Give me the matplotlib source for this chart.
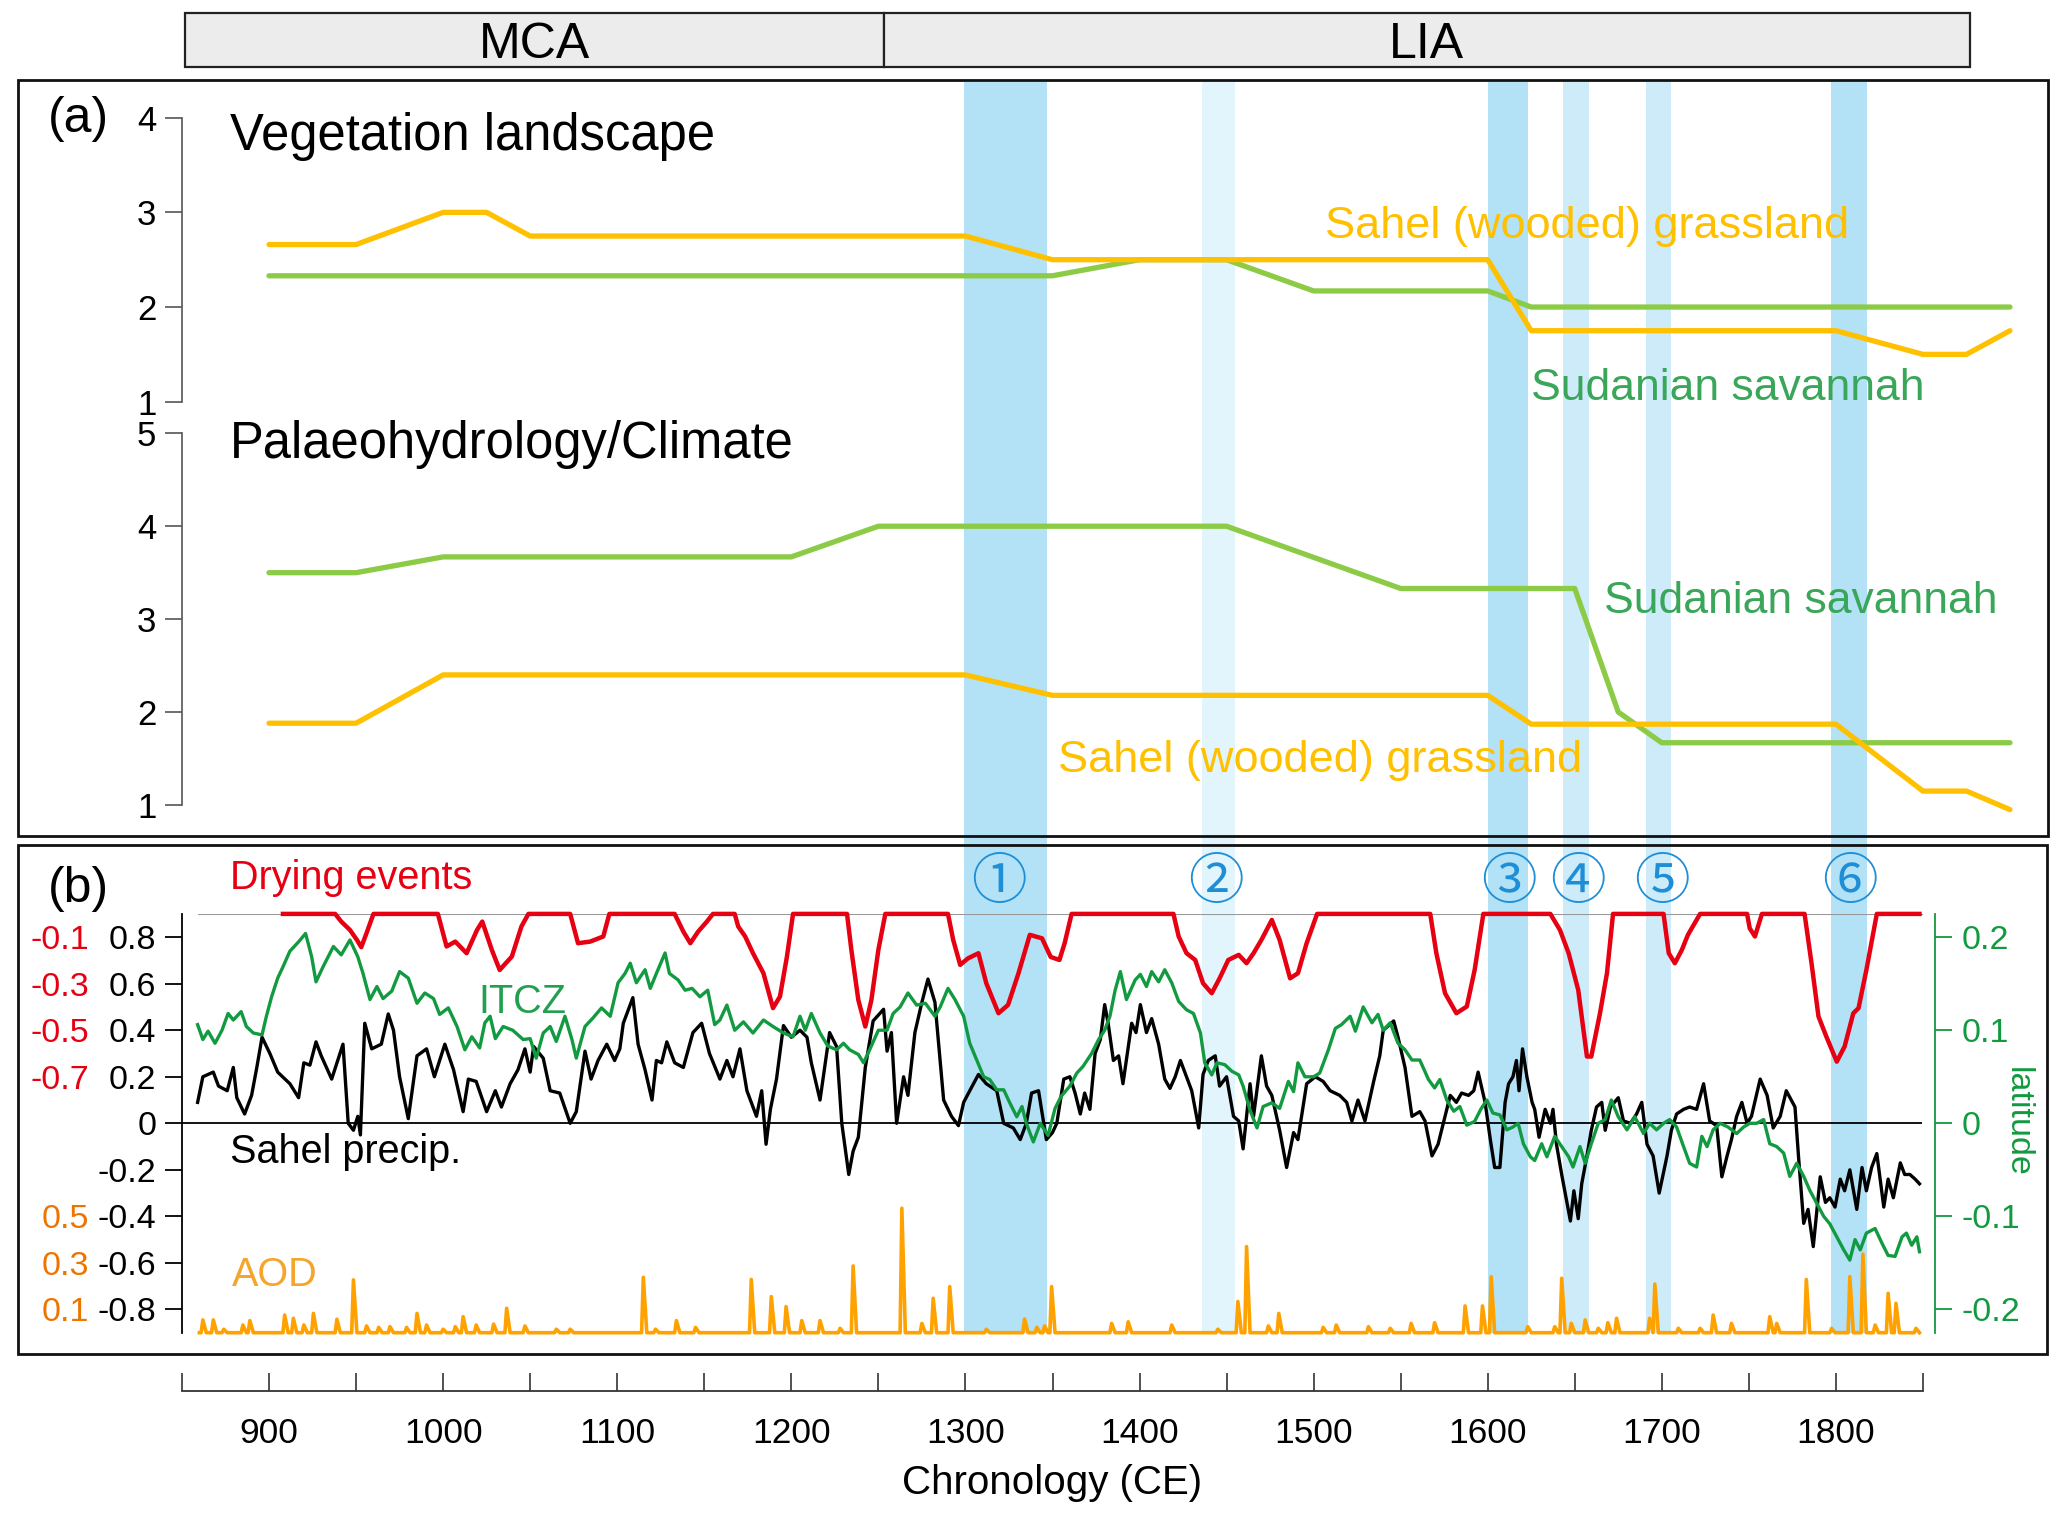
import matplotlib
matplotlib.use("Agg")
import matplotlib.pyplot as plt
from matplotlib.patches import Rectangle

plt.rcParams['font.family'] = ['Liberation Sans', 'DejaVu Sans']

# ---------------- data ----------------
PERIODS = ['MCA', 'LIA']
PERIOD_START = [852, 1253]
PERIOD_END = [1253, 1877]

# drying-event bands (CE)
BAND_START = [1299, 1436, 1600, 1643, 1691, 1797]
BAND_END = [1347, 1455, 1623, 1658, 1705, 1818]
BAND_SHADE = ['dark', 'light', 'dark', 'mid', 'mid', 'dark']
EVENT_LABELS = ['①', '②', '③', '④', '⑤', '⑥']
EVENT_YEAR = [1319, 1444, 1612, 1652, 1700, 1808]

# (a) vegetation landscape
VEG_SAHEL_YEAR = [900, 950, 1000, 1025, 1050, 1300, 1350, 1600, 1625, 1800, 1850, 1875, 1900]
VEG_SAHEL = [2.66, 2.66, 3.0, 3.0, 2.75, 2.75, 2.5, 2.5, 1.75, 1.75, 1.5, 1.5, 1.75]
VEG_SUDAN_YEAR = [900, 1350, 1400, 1450, 1500, 1600, 1625, 1900]
VEG_SUDAN = [2.33, 2.33, 2.5, 2.5, 2.17, 2.17, 2.0, 2.0]

# (a) palaeohydrology / climate
PAL_SUDAN_YEAR = [900, 950, 1000, 1200, 1250, 1450, 1550, 1650, 1675, 1700, 1900]
PAL_SUDAN = [3.5, 3.5, 3.67, 3.67, 4.0, 4.0, 3.33, 3.33, 2.0, 1.67, 1.67]
PAL_SAHEL_YEAR = [900, 950, 1000, 1300, 1350, 1600, 1625, 1800, 1850, 1875, 1900]
PAL_SAHEL = [1.88, 1.88, 2.4, 2.4, 2.18, 2.18, 1.87, 1.87, 1.15, 1.15, 0.95]

# (b) Sahel precipitation
PRECIP_YEAR = [859, 862, 868, 871, 876, 879.5, 881.5, 886, 890, 893, 896, 900.5, 905, 912, 917, 920,
               923.5, 927, 930, 936, 942.5, 945.5, 948.5, 951, 952.5, 955, 959, 964.5, 968.5, 971.5,
               975, 980, 985, 990.5, 995, 1001, 1006, 1011.5, 1014.5, 1019, 1025, 1030, 1033.5,
               1038.5, 1043, 1047, 1050, 1052, 1057.5, 1061.5, 1067, 1073, 1076.5, 1081.5, 1085,
               1089, 1094, 1098.5, 1101.5, 1103.5, 1105.5, 1109, 1112, 1116, 1120, 1122.5, 1125.5,
               1128.5, 1133, 1138, 1143.5, 1148.5, 1153, 1159, 1163, 1166.5, 1170.5, 1174.5, 1180,
               1183, 1185.5, 1188, 1191.5, 1195.5, 1200, 1205, 1209, 1211.5, 1216.5, 1222, 1226,
               1229, 1233, 1235.5, 1238.5, 1242.5, 1247, 1253, 1255, 1257.5, 1260.5, 1264.5, 1267,
               1271, 1275, 1278.5, 1282.5, 1287.5, 1292, 1296, 1299, 1302.5, 1307.5, 1312, 1318,
               1322, 1327.5, 1331.5, 1335, 1338, 1342, 1346.5, 1350, 1352.5, 1356.5, 1360, 1363,
               1366, 1368.5, 1371.5, 1374.5, 1377.5, 1380, 1382, 1385, 1388, 1390.5, 1395.5, 1398,
               1400.5, 1404, 1407, 1411, 1414.5, 1417.5, 1420.5, 1423.5, 1427, 1430, 1434, 1436.5,
               1439.5, 1443.5, 1446, 1450, 1454, 1457, 1459.5, 1463.5, 1465.5, 1470, 1473, 1476,
               1480.5, 1484.5, 1488.5, 1491, 1496, 1501, 1505.5, 1509.5, 1515, 1519, 1522, 1525.5,
               1529.5, 1534.5, 1538, 1540, 1546, 1548.5, 1552.5, 1556.5, 1561, 1564, 1568, 1571.5,
               1575.5, 1578.5, 1582, 1585, 1589, 1592, 1594.5, 1598.5, 1601.5, 1604, 1607, 1610,
               1612, 1614.5, 1616.5, 1618, 1620, 1622.5, 1625.5, 1627, 1629.5, 1633, 1636, 1637.5,
               1639.5, 1642.5, 1647.5, 1649.5, 1652, 1654, 1657, 1659.5, 1662.5, 1665.5, 1667.5,
               1670.5, 1675, 1678, 1682, 1685.5, 1688.5, 1691.5, 1695, 1698.5, 1703, 1705.5, 1708.5,
               1712.5, 1716, 1720, 1724, 1727.5, 1731.5, 1734.5, 1737.5, 1740, 1743, 1746, 1749,
               1751.5, 1756.5, 1760.5, 1764, 1768, 1771.5, 1776.5, 1778.5, 1781.5, 1784, 1787, 1791,
               1794, 1796.5, 1799.5, 1802.5, 1805, 1808, 1812, 1815, 1817.5, 1820.5, 1823.5, 1827.5,
               1830, 1833, 1837, 1839.5, 1842.5, 1845.5, 1848]
PRECIP = [0.09, 0.20, 0.22, 0.16, 0.14, 0.24, 0.11, 0.04, 0.12, 0.24, 0.37, 0.30, 0.22, 0.17, 0.11, 0.26,
          0.25, 0.35, 0.29, 0.19, 0.34, 0.0, -0.03, 0.03, -0.05, 0.43, 0.32, 0.34, 0.47, 0.40,
          0.20, 0.02, 0.29, 0.32, 0.20, 0.34, 0.23, 0.05, 0.19, 0.18, 0.05, 0.14, 0.07,
          0.17, 0.23, 0.32, 0.22, 0.33, 0.28, 0.14, 0.13, 0.0, 0.05, 0.31, 0.19,
          0.27, 0.34, 0.27, 0.32, 0.43, 0.47, 0.54, 0.34, 0.23, 0.10, 0.27, 0.26,
          0.35, 0.26, 0.24, 0.39, 0.43, 0.30, 0.19, 0.27, 0.20, 0.32, 0.14, 0.03,
          0.14, -0.09, 0.06, 0.19, 0.42, 0.37, 0.40, 0.37, 0.26, 0.10, 0.39, 0.33,
          0.0, -0.22, -0.12, -0.06, 0.24, 0.44, 0.49, 0.31, 0.39, 0.0, 0.20, 0.12,
          0.39, 0.52, 0.62, 0.52, 0.10, 0.03, -0.01, 0.09, 0.14, 0.21, 0.17, 0.14,
          0.0, -0.02, -0.07, 0.0, 0.13, 0.14, -0.07, -0.04, 0.0, 0.19, 0.20, 0.13,
          0.04, 0.13, 0.06, 0.30, 0.36, 0.51, 0.43, 0.27, 0.29, 0.17, 0.43, 0.39,
          0.51, 0.39, 0.45, 0.34, 0.19, 0.15, 0.20, 0.27, 0.20, 0.14, -0.02, 0.21,
          0.27, 0.29, 0.16, 0.20, 0.03, 0.01, -0.11, 0.17, 0.03, 0.29, 0.16, 0.12,
          -0.03, -0.19, -0.04, -0.07, 0.17, 0.20, 0.18, 0.14, 0.12, 0.09, 0.01, 0.10,
          0.01, 0.18, 0.29, 0.40, 0.44, 0.37, 0.24, 0.03, 0.05, 0.01, -0.14, -0.09,
          0.03, 0.12, 0.09, 0.13, 0.12, 0.14, 0.22, 0.09, -0.07, -0.19, -0.19, 0.09,
          0.17, 0.20, 0.27, 0.14, 0.32, 0.20, 0.09, 0.06, -0.06, 0.06, 0.0, 0.06,
          -0.09, -0.22, -0.42, -0.29, -0.41, -0.26, -0.14, -0.03, 0.07, 0.09, -0.03,
          0.07, 0.11, 0.01, 0.0, 0.04, 0.09, -0.09, -0.14, -0.30, -0.14, -0.03, 0.04,
          0.06, 0.07, 0.06, 0.17, 0.01, -0.01, -0.23, -0.14, -0.07, 0.03, 0.09, 0.0,
          0.03, 0.19, 0.12, -0.02, 0.03, 0.14, 0.07, -0.14, -0.43, -0.37, -0.53, -0.23,
          -0.34, -0.32, -0.36, -0.24, -0.29, -0.20, -0.37, -0.19, -0.29, -0.19, -0.13, -0.36,
          -0.24, -0.32, -0.17, -0.22, -0.22, -0.24, -0.26]

# (b) ITCZ latitude
ITCZ_YEAR = [859, 862, 865, 869, 873, 876.5, 879.5, 884, 887, 891, 896, 898.5, 901.5, 905, 908, 912,
             917, 921, 924.5, 927, 931, 937, 941.5, 946.5, 951, 954, 958, 962, 965.5, 970.5, 975,
             980, 985, 989.5, 994.5, 998, 1003, 1008, 1012.5, 1016.5, 1021, 1024, 1027, 1030,
             1034.5, 1040, 1046, 1050, 1053.5, 1057.5, 1061.5, 1065, 1070, 1074, 1076.5, 1081.5,
             1086, 1091, 1096, 1100.5, 1104.5, 1107.5, 1111, 1116, 1119, 1122.5, 1127.5, 1130,
             1135, 1139, 1143, 1147.5, 1152, 1156, 1159, 1163, 1167.5, 1172.5, 1178, 1184, 1189.5,
             1195.5, 1201, 1205, 1208, 1211.5, 1216.5, 1221, 1226, 1230, 1233.5, 1238.5, 1241.5,
             1245, 1250, 1255, 1258.5, 1262.5, 1267, 1272, 1277, 1282.5, 1285.5, 1290, 1294, 1299,
             1302.5, 1306.5, 1310.5, 1314, 1318, 1322, 1325.5, 1329.5, 1332.5, 1335, 1339, 1343,
             1347.5, 1351.5, 1355, 1360, 1364, 1367.5, 1372.5, 1376.5, 1380, 1383, 1386, 1389,
             1392.5, 1397.5, 1400.5, 1404, 1407, 1411, 1414.5, 1418.5, 1422.5, 1427, 1431, 1435,
             1437.5, 1441.5, 1444.5, 1449, 1453, 1457, 1459.5, 1463.5, 1467.5, 1471, 1476, 1480.5,
             1485.5, 1488.5, 1491, 1495, 1500, 1503.5, 1508.5, 1512.5, 1516, 1521, 1524, 1528.5,
             1533.5, 1537, 1540, 1544, 1548.5, 1552.5, 1556.5, 1561, 1566, 1569.5, 1572.5, 1576.5,
             1580.5, 1584, 1588, 1592.5, 1596, 1599.5, 1603, 1607, 1611, 1614.5, 1617.5, 1620.5,
             1624.5, 1627, 1631, 1634, 1638.5, 1642.5, 1646.5, 1649, 1653, 1656, 1659.5, 1663.5,
             1667.5, 1671, 1675, 1680, 1684.5, 1689.5, 1693, 1697, 1701, 1704.5, 1708.5, 1712.5,
             1716, 1720, 1723, 1726, 1729.5, 1733.5, 1738, 1743, 1747, 1750.5, 1754.5, 1758.5, 1762,
             1766, 1770, 1773.5, 1777.5, 1781.5, 1785, 1789, 1793, 1796.5, 1800.5, 1804.5, 1808,
             1811, 1814, 1817.5, 1822.5, 1826.5, 1830, 1834, 1838, 1840.5, 1843.5, 1846.5, 1848]
ITCZ = [0.106, 0.090, 0.099, 0.086, 0.100, 0.118, 0.111, 0.120, 0.104, 0.097, 0.095, 0.115, 0.136,
        0.156, 0.168, 0.185, 0.195, 0.204, 0.179, 0.152, 0.168, 0.190, 0.181, 0.197, 0.179, 0.161,
        0.133, 0.147, 0.134, 0.142, 0.163, 0.156, 0.129, 0.140, 0.134, 0.117, 0.124, 0.104, 0.079,
        0.093, 0.081, 0.108, 0.115, 0.091, 0.104, 0.100, 0.090, 0.091, 0.070, 0.097, 0.104, 0.088,
        0.115, 0.090, 0.070, 0.104, 0.113, 0.124, 0.115, 0.151, 0.161, 0.172, 0.151, 0.165, 0.145,
        0.161, 0.183, 0.161, 0.154, 0.143, 0.145, 0.136, 0.143, 0.106, 0.111, 0.127, 0.100, 0.109,
        0.097, 0.111, 0.104, 0.097, 0.093, 0.115, 0.100, 0.118, 0.097, 0.083, 0.079, 0.086, 0.079,
        0.074, 0.065, 0.079, 0.100, 0.100, 0.118, 0.125, 0.140, 0.127, 0.129, 0.115, 0.125, 0.145,
        0.133, 0.115, 0.086, 0.068, 0.050, 0.047, 0.036, 0.036, 0.022, 0.007, 0.018, 0.0, -0.020,
        0.0, -0.013, 0.016, 0.029, 0.040, 0.054, 0.061, 0.075, 0.090, 0.100, 0.115, 0.143, 0.163,
        0.133, 0.154, 0.160, 0.147, 0.163, 0.152, 0.165, 0.151, 0.131, 0.122, 0.118, 0.097, 0.065,
        0.052, 0.065, 0.063, 0.056, 0.052, 0.040, 0.014, -0.005, 0.018, 0.022, 0.016, 0.045, 0.034,
        0.065, 0.050, 0.050, 0.054, 0.079, 0.102, 0.106, 0.115, 0.099, 0.125, 0.108, 0.117, 0.100,
        0.108, 0.086, 0.079, 0.068, 0.068, 0.047, 0.038, 0.047, 0.025, 0.013, 0.018, -0.002, 0.002,
        0.015, 0.025, 0.011, 0.009, -0.007, -0.004, 0.0, -0.022, -0.036, -0.040, -0.022, -0.036,
        -0.014, -0.025, -0.036, -0.047, -0.025, -0.043, -0.022, 0.0, 0.004, 0.025, 0.007, -0.007,
        0.007, -0.011, 0.0, -0.007, 0.0, 0.004, -0.004, -0.025, -0.043, -0.047, -0.014, -0.025,
        -0.007, 0.0, -0.004, -0.011, -0.004, 0.0, 0.0, 0.004, -0.022, -0.025, -0.032, -0.057,
        -0.043, -0.057, -0.072, -0.086, -0.100, -0.108, -0.122, -0.136, -0.147, -0.125, -0.136,
        -0.118, -0.113, -0.129, -0.142, -0.143, -0.122, -0.118, -0.131, -0.122, -0.138]

# (b) drying events
DRY_YEAR = [908, 938, 941.5, 946.5, 950.5, 953, 956, 960, 997, 1002, 1007, 1013.5, 1019.5, 1022.5,
            1028, 1032.5, 1039.5, 1045, 1049, 1073, 1077.5, 1084.5, 1092, 1095.5, 1133, 1138, 1142,
            1146.5, 1151.5, 1155, 1167.5, 1169.5, 1173.5, 1178, 1184, 1189.5, 1193.5, 1197.5, 1201,
            1232, 1234.5, 1238.5, 1242.5, 1246, 1250, 1254, 1290, 1293, 1297, 1301.5, 1307.5, 1312,
            1319, 1324.5, 1330.5, 1337, 1344, 1349, 1354, 1357, 1361, 1419.5, 1422.5, 1427, 1432,
            1436.5, 1441.5, 1446, 1451, 1457, 1461.5, 1465.5, 1470, 1476, 1480.5, 1486.5, 1491, 1496,
            1502, 1567, 1570.5, 1575.5, 1582, 1588, 1592.5, 1597.5, 1636, 1641.5, 1646.5, 1652, 1657,
            1659.5, 1664.5, 1668.5, 1672, 1701, 1704, 1707.5, 1711.5, 1715, 1722, 1749, 1750.5,
            1753.5, 1757.5, 1782, 1786, 1790, 1794.5, 1800.5, 1805, 1810, 1813, 1817.5, 1823.5, 1848]
DRY = [0, 0, -0.033, -0.069, -0.112, -0.143, -0.083, 0, 0, -0.14, -0.119, -0.169, -0.069, -0.033,
       -0.155, -0.241, -0.183, -0.054, 0, 0, -0.126, -0.119, -0.097, 0, 0, -0.076, -0.126,
       -0.076, -0.033, 0, 0, -0.054, -0.097, -0.169, -0.255, -0.405, -0.355, -0.183, 0,
       0, -0.155, -0.37, -0.484, -0.37, -0.155, 0, 0, -0.112, -0.219, -0.191, -0.169, -0.298,
       -0.427, -0.391, -0.255, -0.09, -0.105, -0.185, -0.198, -0.126, 0, 0, -0.097, -0.169, -0.198,
       -0.298, -0.341, -0.277, -0.198, -0.176, -0.212, -0.169, -0.112, -0.026, -0.112, -0.277, -0.255, -0.126,
       0, 0, -0.169, -0.341, -0.427, -0.398, -0.241, 0, 0, -0.069, -0.169, -0.327, -0.613,
       -0.613, -0.427, -0.255, 0, 0, -0.169, -0.212, -0.155, -0.09, 0, 0, -0.062,
       -0.097, 0, 0, -0.212, -0.441, -0.527, -0.635, -0.57, -0.427, -0.405, -0.241, 0, 0]

# (b) volcanic aerosol optical depth, peak years and heights
AOD_START, AOD_END = 860, 1848
AOD_YEAR = [862, 868, 874, 885, 889, 909, 914, 920, 925.5, 939, 948.5, 956, 963, 969.5, 979, 985,
            990.5, 1000, 1007, 1011.5, 1019, 1029, 1036.5, 1047, 1065, 1073, 1115, 1122, 1134, 1145,
            1177, 1188.5, 1197, 1206, 1216.5, 1228, 1235.5, 1263.5, 1275, 1281.5, 1291, 1312, 1334,
            1341, 1345.5, 1349.5, 1384, 1393.5, 1418.5, 1445, 1456.5, 1461.5, 1474, 1480, 1505.5,
            1513, 1531.5, 1544, 1556, 1569.5, 1587, 1597, 1602, 1623, 1638.5, 1642.5, 1648, 1656,
            1663.5, 1669, 1674, 1693, 1696, 1709.5, 1722, 1729.5, 1740, 1762, 1766, 1783, 1797.5,
            1808, 1815.5, 1822.5, 1830, 1834.5, 1846]
AOD_PEAK = [0.055, 0.055, 0.015, 0.033, 0.052, 0.076, 0.062, 0.033, 0.083, 0.058, 0.227, 0.029, 0.023,
            0.026, 0.023, 0.083, 0.033, 0.015, 0.026, 0.069, 0.033, 0.037, 0.105, 0.029, 0.015, 0.015,
            0.238, 0.015, 0.052, 0.023, 0.229, 0.155, 0.112, 0.052, 0.052, 0.019, 0.287, 0.535, 0.04,
            0.148, 0.198, 0.015, 0.059, 0.023, 0.029, 0.198, 0.04, 0.047, 0.033, 0.015, 0.134, 0.37,
            0.029, 0.083, 0.023, 0.033, 0.026, 0.019, 0.04, 0.043, 0.115, 0.115, 0.24, 0.026, 0.026,
            0.234, 0.04, 0.055, 0.019, 0.043, 0.062, 0.062, 0.209, 0.019, 0.019, 0.076, 0.04, 0.069,
            0.04, 0.229, 0.019, 0.241, 0.338, 0.033, 0.169, 0.126, 0.019]

PRECIP_TICKS = [0.8, 0.6, 0.4, 0.2, 0, -0.2, -0.4, -0.6, -0.8]
PRECIP_LABELS = ['0.8', '0.6', '0.4', '0.2', '0', '-0.2', '-0.4', '-0.6', '-0.8']
DRY_TICKS = [-0.1, -0.3, -0.5, -0.7]
AOD_TICKS = [0.5, 0.3, 0.1]
ITCZ_TICKS = [0.2, 0.1, 0, -0.1, -0.2]
ITCZ_LABELS = ['0.2', '0.1', '0', '-0.1', '-0.2']

# ---------------- styling ----------------
ORANGE_A = '#FFC000'
GREEN_A = '#8CCB45'
GREEN_A_TXT = '#3AA65A'
RED = '#E60012'
ITCZ_GREEN = '#129A40'
AOD_C = '#FFA200'
AOD_TXT = '#F5A52C'
AOD_TICK_TXT = '#EE7400'
BLUE_NUM = '#1E8FD6'
SHADES = {'dark': '#B3E1F6', 'mid': '#CDEBF9', 'light': '#E2F4FC'}

W, H = 2067, 1513
X900, PPY = 269.0, 1.741   # pixel of year 900 and pixels per year


def fig_rect(x0, y0, x1, y1):
    return [x0 / W, 1 - y1 / H, (x1 - x0) / W, (y1 - y0) / H]


def year_at(px):
    return 900 + (px - X900) / PPY


def fx(px):
    return px / W


def fy(py):
    return 1 - py / H


fig = plt.figure(figsize=(W / 100, H / 100), dpi=100)

# shaded drying-event bands behind everything
ax_bg = fig.add_axes(fig_rect(182, 82, 2045, 1333))
ax_bg.set_xlim(year_at(182), year_at(2045))
ax_bg.set_ylim(0, 1)
ax_bg.axis('off')
for s, e, shade in zip(BAND_START, BAND_END, BAND_SHADE):
    ax_bg.axvspan(s, e, color=SHADES[shade], lw=0)

# period banner
ax_top = fig.add_axes(fig_rect(182, 13, 2045, 67))
ax_top.set_xlim(year_at(182), year_at(2045))
ax_top.set_ylim(-0.5, 0.5)
ax_top.axis('off')
widths = [e - s for s, e in zip(PERIOD_START, PERIOD_END)]
ax_top.barh([0, 0], widths, left=PERIOD_START, height=1, color='#ececec',
            edgecolor='#222222', lw=1.6, clip_on=False)
for name, s, e in zip(PERIODS, PERIOD_START, PERIOD_END):
    ax_top.text((s + e) / 2, -0.1, name, ha='center', va='center', fontsize=36)

# panel frames
for x0, y0, x1, y1 in [(18, 80, 2048, 836), (18, 845, 2047, 1354)]:
    fig.add_artist(Rectangle((fx(x0), fy(y1)), (x1 - x0) / W, (y1 - y0) / H,
                             transform=fig.transFigure, fill=False, ec='#111111', lw=2.0, zorder=5))


def style_a(ax, lo, hi):
    ax.patch.set_visible(False)
    for side in ['top', 'right', 'bottom']:
        ax.spines[side].set_visible(False)
    ax.spines['left'].set_bounds(lo, hi)
    ax.spines['left'].set_color('#555555')
    ax.spines['left'].set_linewidth(1.2)
    ax.set_xticks([])
    ax.set_yticks(range(lo, hi + 1))
    ax.tick_params(axis='y', length=12.5, width=1.2, color='#555555', pad=6, labelsize=25)


# (a) vegetation landscape
ax_veg = fig.add_axes(fig_rect(182, 117.7, 2045, 401.7))
ax_veg.set_xlim(year_at(182), year_at(2045))
ax_veg.set_ylim(1, 4)
style_a(ax_veg, 1, 4)
ax_veg.plot(VEG_SUDAN_YEAR, VEG_SUDAN, color=GREEN_A, lw=3.8, clip_on=False, solid_capstyle='round')
ax_veg.plot(VEG_SAHEL_YEAR, VEG_SAHEL, color=ORANGE_A, lw=3.8, clip_on=False, solid_capstyle='round')

# (a) palaeohydrology
ax_pal = fig.add_axes(fig_rect(182, 433.3, 2045, 805))
ax_pal.set_xlim(year_at(182), year_at(2045))
ax_pal.set_ylim(1, 5)
style_a(ax_pal, 1, 5)
ax_pal.plot(PAL_SUDAN_YEAR, PAL_SUDAN, color=GREEN_A, lw=3.8, clip_on=False, solid_capstyle='round')
ax_pal.plot(PAL_SAHEL_YEAR, PAL_SAHEL, color=ORANGE_A, lw=3.8, clip_on=False, solid_capstyle='round')

fig.text(fx(48), fy(132), '(a)', fontsize=36, va='baseline')
fig.text(fx(230), fy(150), 'Vegetation landscape', fontsize=36.5, va='baseline')
fig.text(fx(230), fy(458), 'Palaeohydrology/Climate', fontsize=36.5, va='baseline')
fig.text(fx(1325), fy(238), 'Sahel (wooded) grassland', fontsize=32.5, color=ORANGE_A, va='baseline')
fig.text(fx(1531), fy(400), 'Sudanian savannah', fontsize=32, color=GREEN_A_TXT, va='baseline')
fig.text(fx(1604), fy(613), 'Sudanian savannah', fontsize=32, color=GREEN_A_TXT, va='baseline')
fig.text(fx(1058), fy(772), 'Sahel (wooded) grassland', fontsize=32.5, color=ORANGE_A, va='baseline')

# (b) main axis: Sahel precipitation
rect_b = fig_rect(182, 913.9, 1935, 1332.7)
ax_b = fig.add_axes(rect_b)
ax_b.set_xlim(year_at(182), year_at(1935))
ax_b.set_ylim(-0.9, 0.9)
ax_b.patch.set_visible(False)
for side in ['top', 'right', 'bottom']:
    ax_b.spines[side].set_visible(False)
ax_b.spines['left'].set_linewidth(1.3)
ax_b.set_xticks([])
ax_b.set_yticks(PRECIP_TICKS, PRECIP_LABELS)
ax_b.tick_params(axis='y', length=12.5, width=1.3, pad=6, labelsize=24.5)
tick_cols = [RED] * 4 + ['black'] + [AOD_C] * 4
for tick, c in zip(ax_b.yaxis.get_major_ticks(), tick_cols):
    tick.tick1line.set_color(c)
ax_b.hlines(0, year_at(182), 1849.5, color='black', lw=1.3)
ax_b.plot(PRECIP_YEAR, PRECIP, color='black', lw=2.4)


def overlay(ylim):
    ax = fig.add_axes(rect_b, sharex=ax_b, frameon=False)
    ax.set_ylim(*ylim)
    ax.xaxis.set_visible(False)
    ax.patch.set_visible(False)
    return ax


# AOD
ax_aod = overlay((0, 1.8))
aod_x, aod_y = [AOD_START], [0]
for yr, h in zip(AOD_YEAR, AOD_PEAK):
    aod_x += [yr - 1, yr, yr + 2]
    aod_y += [0, h, 0]
aod_x.append(AOD_END)
aod_y.append(0)
ax_aod.plot(aod_x, aod_y, color=AOD_C, lw=2.6, clip_on=False)
ax_aod.set_yticks(AOD_TICKS, [str(t) for t in AOD_TICKS])
ax_aod.tick_params(axis='y', length=0, pad=67, labelsize=24.5, labelcolor=AOD_TICK_TXT)

# ITCZ on right axis
ax_itcz = ax_b.twinx()
ax_itcz.set_ylim(-0.225, 0.225)
ax_itcz.patch.set_visible(False)
for side in ['top', 'left', 'bottom']:
    ax_itcz.spines[side].set_visible(False)
ax_itcz.spines['right'].set_color(ITCZ_GREEN)
ax_itcz.spines['right'].set_linewidth(1.3)
ax_itcz.set_yticks(ITCZ_TICKS, ITCZ_LABELS)
ax_itcz.tick_params(axis='y', length=12.5, width=1.3, pad=6.5, labelsize=24.5,
                    color=ITCZ_GREEN, labelcolor=ITCZ_GREEN)
ax_itcz.plot(ITCZ_YEAR, ITCZ, color=ITCZ_GREEN, lw=2.4)

# drying events
ax_dry = overlay((-1.8, 0))
ax_dry.hlines(0, 859, 1850, color='#999999', lw=1.5)
ax_dry.plot(DRY_YEAR, DRY, color=RED, lw=3.2, clip_on=False)
ax_dry.set_yticks(DRY_TICKS, [str(t) for t in DRY_TICKS])
ax_dry.tick_params(axis='y', length=0, pad=67, labelsize=24.5, labelcolor=RED)

# event numbers
for lab, yr in zip(EVENT_LABELS, EVENT_YEAR):
    ax_b.text(yr, 1.03, lab, ha='center', va='center', fontsize=40, color=BLUE_NUM,
              family=['Noto Sans CJK JP', 'DejaVu Sans'], clip_on=False)

fig.text(fx(48), fy(902), '(b)', fontsize=36, va='baseline')
fig.text(fx(230), fy(889), 'Drying events', fontsize=28.5, color=RED, va='baseline')
fig.text(fx(478), fy(1013), 'ITCZ', fontsize=28.5, color='#22A050', va='baseline')
fig.text(fx(230), fy(1163), 'Sahel precip.', fontsize=28.5, va='baseline')
fig.text(fx(232), fy(1286), 'AOD', fontsize=28.5, color=AOD_TXT, va='baseline')
fig.text(fx(2017), fy(1122), 'latitude', fontsize=24.5, color=ITCZ_GREEN, rotation=270,
         ha='center', va='center')

# chronology axis
ax_x = fig.add_axes(fig_rect(182, 1370, 1923, 1390.7))
ax_x.set_xlim(850, 1850)
ax_x.patch.set_visible(False)
for side in ['top', 'left', 'right']:
    ax_x.spines[side].set_visible(False)
ax_x.spines['bottom'].set_color('#333333')
ax_x.spines['bottom'].set_linewidth(1.3)
ax_x.set_yticks([])
x_ticks = list(range(850, 1851, 50))
ax_x.set_xticks(x_ticks, [str(t) if t % 100 == 0 else '' for t in x_ticks])
ax_x.tick_params(axis='x', direction='in', length=13, width=1.2, color='#333333',
                 pad=19, labelsize=25.5)
ax_x.set_xlabel('Chronology (CE)', fontsize=29, labelpad=10)

fig.savefig('out.png', dpi=100)
